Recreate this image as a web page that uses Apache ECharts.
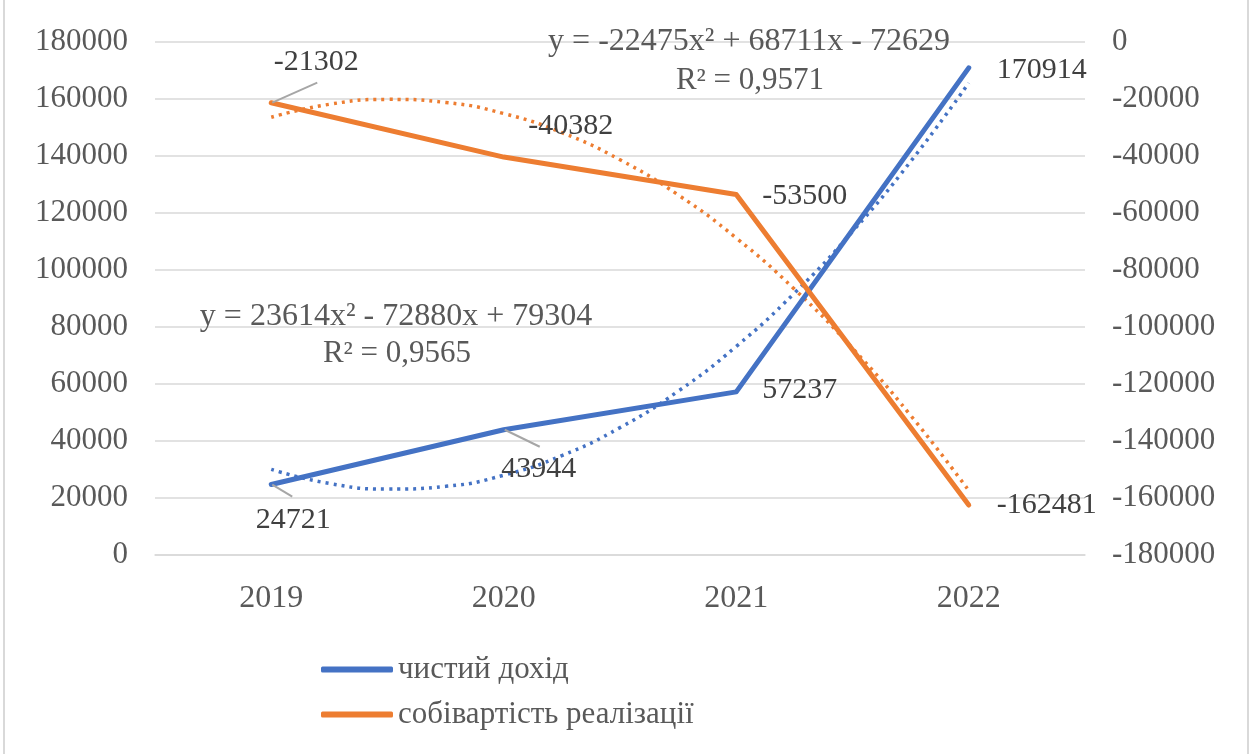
<!DOCTYPE html>
<html><head><meta charset="utf-8">
<script src="https://cdn.jsdelivr.net/npm/echarts@6/dist/echarts.min.js"></script>
<style>html,body{margin:0;padding:0;background:#fff}#c{width:1251px;height:754px}</style>
</head><body><div id="c"></div>
<script>
// ---- data ----
const years = ['2019', '2020', '2021', '2022'];
const netIncome = [24721, 43944, 57237, 170914];            // чистий дохід (left axis)
const costOfSales = [-21302, -40382, -53500, -162481];      // собівартість реалізації (right axis)
// dotted polynomial trendlines, values at quarter-year steps
const trendX = [1, 1.25, 1.5, 1.75, 2, 2.25, 2.5, 2.75, 3, 3.25, 3.5, 3.75, 4];
const netIncomeTrend = [30038, 25101, 23116, 24083, 28000, 34870, 44692, 57465, 73190, 91867, 113496, 138076, 165608];
const costTrend = [-26393, -21857, -20131, -21215, -25107, -31809, -41320, -53641, -68771, -86710, -107459, -131018, -157385];
const trendTexts = {
  income: ['y = 23614x² - 72880x + 79304', 'R² = 0,9565'],
  cost: ['y = -22475x² + 68711x - 72629', 'R² = 0,9571']
};
const seriesNames = ['чистий дохід', 'собівартість реалізації'];

// ---- styles ----
const FONT = "'Liberation Serif', 'Times New Roman', serif";
const BLUE = '#4472C4', ORANGE = '#ED7D31';
const GRID = '#D9D9D9';
const AXIS_TXT = '#595959', LBL_TXT = '#404040';
const LEADER = '#A6A6A6';

const chart = echarts.init(document.getElementById('c'));

const lblBase = {show: true, fontFamily: FONT, fontSize: 30, color: LBL_TXT};
const incomeLabel = [
  {position: 'bottom', distance: 5},
  {position: 'bottom', distance: 5},
  {position: 'right', distance: 25},
  {position: 'right', distance: 27}
];
const costLabel = [
  {position: 'top', distance: 5},
  {position: 'top', distance: 5},
  {position: 'right', distance: 25},
  {position: 'right', distance: 27}
];
// label shifts (px) away from their default place
const incomeMove = {0: [22, 15], 1: [35, 18], 2: [0, -2], 3: [0, 2]};
const costMove = {0: [45, -20], 1: [67, -10], 2: [0, 2]};
// leader-line ends relative to the data point (px)
const incomeLeader = {0: [21, 12], 1: [36, 17]};
const costLeader = {0: [46, -20]};

function mkData(vals, lbls) {
  return vals.map((v, i) => ({value: v, label: lbls[i]}));
}
const tf = (xs, ys) => xs.map((x, i) => [x, ys[i]]);
const plain = v => String(v);

chart.setOption({
  animation: false,
  backgroundColor: '#fff',
  grid: {left: 155, right: 166, top: 42, bottom: 199, containLabel: false},
  legend: {
    data: seriesNames,
    orient: 'vertical', left: 321, top: 654, padding: 0,
    itemWidth: 72, itemHeight: 6, itemGap: 14, icon: 'roundRect',
    textStyle: {fontFamily: FONT, fontSize: 31, color: AXIS_TXT}
  },
  xAxis: [
    {
      type: 'category', data: years, boundaryGap: true,
      axisLine: {show: true, lineStyle: {color: GRID, width: 1.5}},
      axisTick: {show: false},
      axisLabel: {fontFamily: FONT, fontSize: 32, color: AXIS_TXT, margin: 28}
    },
    {type: 'value', min: 0.5, max: 4.5, show: false}
  ],
  yAxis: [
    {
      type: 'value', min: 0, max: 180000, interval: 20000,
      axisLine: {show: false}, axisTick: {show: false},
      splitLine: {lineStyle: {color: GRID, width: 1.5}},
      axisLabel: {fontFamily: FONT, fontSize: 31, color: AXIS_TXT, margin: 27, formatter: plain}
    },
    {
      type: 'value', min: -180000, max: 0, interval: 20000, position: 'right',
      axisLine: {show: false}, axisTick: {show: false},
      splitLine: {show: false},
      axisLabel: {fontFamily: FONT, fontSize: 31, color: AXIS_TXT, margin: 27, formatter: plain}
    }
  ],
  series: [
    {
      name: 'trend1', type: 'line', xAxisIndex: 1, yAxisIndex: 0,
      data: tf(trendX, netIncomeTrend), smooth: true, showSymbol: false, silent: true,
      lineStyle: {color: BLUE, width: 3.5, type: [3, 5]}, z: 2
    },
    {
      name: 'trend2', type: 'line', xAxisIndex: 1, yAxisIndex: 1,
      data: tf(trendX, costTrend), smooth: true, showSymbol: false, silent: true,
      lineStyle: {color: ORANGE, width: 3.5, type: [3, 5]}, z: 2
    },
    {
      name: seriesNames[0], type: 'line', xAxisIndex: 0, yAxisIndex: 0,
      data: mkData(netIncome, incomeLabel),
      symbol: 'circle', symbolSize: 2, showSymbol: true,
      itemStyle: {color: BLUE},
      lineStyle: {color: BLUE, width: 5, cap: 'round', join: 'round'},
      label: lblBase,
      labelLayout: p => { const m = incomeMove[p.dataIndex]; return m ? {dx: m[0], dy: m[1]} : {}; },
      z: 3
    },
    {
      name: seriesNames[1], type: 'line', xAxisIndex: 0, yAxisIndex: 1,
      data: mkData(costOfSales, costLabel),
      symbol: 'circle', symbolSize: 2, showSymbol: true,
      itemStyle: {color: ORANGE},
      lineStyle: {color: ORANGE, width: 5, cap: 'round', join: 'round'},
      label: lblBase,
      labelLayout: p => { const m = costMove[p.dataIndex]; return m ? {dx: m[0], dy: m[1]} : {}; },
      z: 4
    }
  ]
});

// leader lines from data points (positions from the library's scales)
const graphics = [
  {id: 'border', type: 'rect', shape: {x: 4, y: -4, width: 1244, height: 762}, style: {fill: 'none', stroke: GRID, lineWidth: 2}, silent: true, z: 0},
  {id: 'eq1', type: 'text', x: 396, y: 317, style: {text: trendTexts.income[0], font: '32px ' + FONT, fill: AXIS_TXT, align: 'center', verticalAlign: 'middle'}, z: 10},
  {id: 'r1', type: 'text', x: 397, y: 354, style: {text: trendTexts.income[1], font: '31px ' + FONT, fill: AXIS_TXT, align: 'center', verticalAlign: 'middle'}, z: 10},
  {id: 'eq2', type: 'text', x: 749, y: 42, style: {text: trendTexts.cost[0], font: '32px ' + FONT, fill: AXIS_TXT, align: 'center', verticalAlign: 'middle'}, z: 10},
  {id: 'r2', type: 'text', x: 750, y: 81, style: {text: trendTexts.cost[1], font: '31px ' + FONT, fill: AXIS_TXT, align: 'center', verticalAlign: 'middle'}, z: 10}
];
function addLeaders(vals, leaders, yIdx, tag) {
  Object.keys(leaders).forEach(k => {
    const i = +k;
    const p = chart.convertToPixel({xAxisIndex: 0, yAxisIndex: yIdx}, [years[i], vals[i]]);
    const d = leaders[k];
    graphics.push({
      id: tag + i, type: 'line', silent: true, z: 5,
      shape: {x1: p[0] + 1, y1: p[1], x2: p[0] + d[0], y2: p[1] + d[1]},
      style: {stroke: LEADER, lineWidth: 2}
    });
  });
}
addLeaders(netIncome, incomeLeader, 0, 'li');
addLeaders(costOfSales, costLeader, 1, 'lc');
chart.setOption({graphic: graphics});
</script>
</body></html>
